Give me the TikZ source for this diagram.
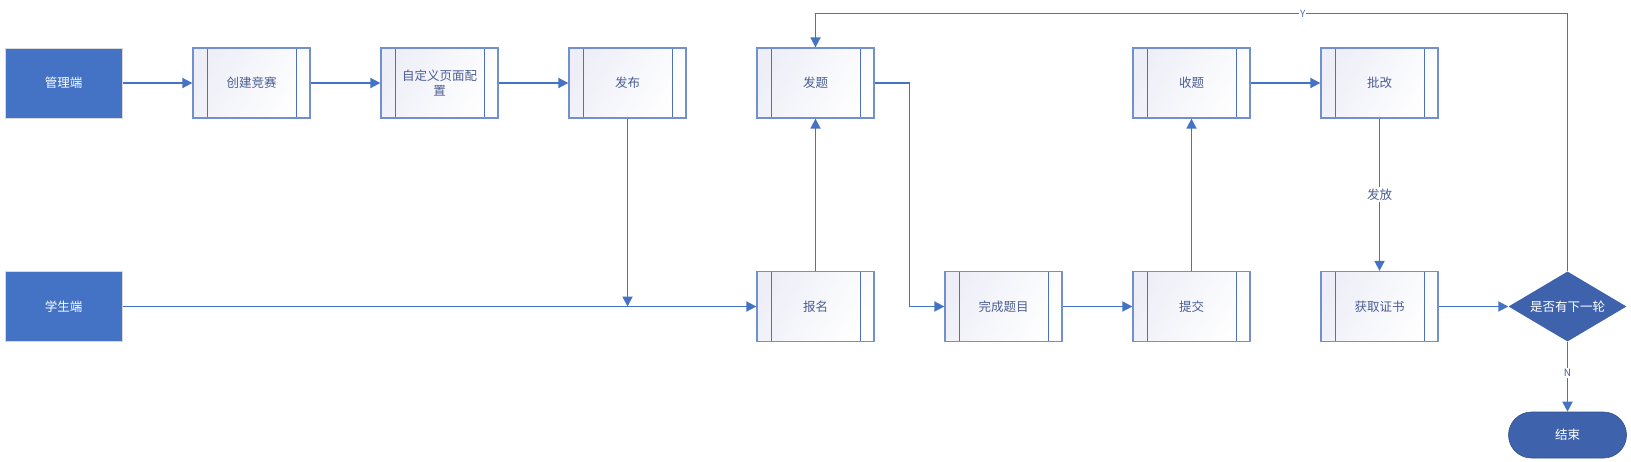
\documentclass[tikz,border=0pt]{standalone}
\usepackage{fontspec}
\setmainfont{Noto Sans CJK SC}
\usetikzlibrary{arrows.meta,shapes.geometric,calc}
\definecolor{lineblue}{HTML}{4472C4}
\definecolor{boxborder}{HTML}{7290D0}
\definecolor{boxinner}{HTML}{4F70BA}
\definecolor{boxtop}{HTML}{E4E6F4}
\definecolor{boxtext}{HTML}{4A5E94}
\definecolor{darkfill}{HTML}{4472C4}
\definecolor{decfill}{HTML}{3E63AC}
\newcommand{\cnfont}{\fontsize{12.5pt}{15pt}\selectfont}
\tikzset{
  proc/.style={draw=boxborder, line width=1.3pt, top color=boxtop, bottom color=white, middle color=white!55!boxtop,
    shading angle=60, minimum width=117pt, minimum height=70pt, inner sep=0pt,
    font=\cnfont, text=boxtext, align=center,
    path picture={
      \fill[white, opacity=0.35] (path picture bounding box.north west) rectangle (path picture bounding box.south east);
      \draw[boxinner, line width=1pt] ([xshift=14pt]path picture bounding box.north west) -- ([xshift=14pt]path picture bounding box.south west);
      \draw[boxinner, line width=1pt] ([xshift=-14pt]path picture bounding box.north east) -- ([xshift=-14pt]path picture bounding box.south east);
    }},
  actor/.style={draw=black!15, line width=1pt, fill=darkfill, minimum width=117pt, minimum height=70pt,
    inner sep=0pt, font=\cnfont, text=white},
  decision/.style={diamond, fill=decfill, minimum width=118pt, minimum height=70pt, inner sep=0pt,
    aspect=1.686, font=\cnfont, text=white},
  terminal/.style={rectangle, rounded corners=23pt, fill=decfill, draw=decfill!80!black, line width=0.6pt,
    minimum width=118pt, minimum height=46pt, inner sep=0pt, font=\cnfont, text=white},
  conn/.style={draw=lineblue, line width=1.8pt, -{Triangle[length=10pt,width=10pt]}},
  plainline/.style={draw=lineblue, line width=1.8pt},
  elabel/.style={fill=white, inner sep=1.5pt, text=boxtext}
}
\begin{document}
\begin{tikzpicture}[x=1pt,y=-1pt]
\useasboundingbox (0,0) rectangle (1631,461);
% top row
\node[actor] (admin) at (63.5,83) {管理端};
\node[proc] (create) at (251.5,83) {创建竞赛};
\node[proc] (custom) at (439.5,83) {自定义页面配\\置};
\node[proc] (publish) at (627.5,83) {发布};
\node[proc] (issue) at (815.5,83) {发题};
\node[proc] (collect) at (1191.5,83) {收题};
\node[proc] (grade) at (1379.5,83) {批改};
% bottom row
\node[actor] (student) at (63.5,306.5) {学生端};
\node[proc] (signup) at (815.5,306.5) {报名};
\node[proc] (finish) at (1003.5,306.5) {完成题目};
\node[proc] (submit) at (1191.5,306.5) {提交};
\node[proc] (cert) at (1379.5,306.5) {获取证书};
\node[decision] (next) at (1567.5,306.5) {是否有下一轮};
\node[terminal] (end) at (1567.5,435) {结束};
% helper coordinates
\coordinate (merge) at (publish.south |- student.east);
\coordinate (bend) at ($(issue.east)!0.5!(finish.west)$);
\coordinate (loop) at (next.north |- 0,13.5);
% connectors
\draw[conn] (admin) -- (create);
\draw[conn] (create) -- (custom);
\draw[conn] (custom) -- (publish);
\draw[conn] (publish.south) -- (merge);
\draw[conn] (student.east) -- (signup.west);
\draw[conn] (signup.north) -- (issue.south);
\draw[conn] (issue.east) -| (bend) |- (finish.west);
\draw[conn] (finish) -- (submit);
\draw[conn] (submit.north) -- (collect.south);
\draw[conn] (collect) -- (grade);
\draw[conn] (grade.south) -- node[elabel, font=\cnfont] {发放} (cert.north);
\draw[conn] (cert.east) -- (next.west);
\draw[plainline] (next.north) -- (loop);
\draw[conn] (loop) -| node[pos=0.176, fill=white, inner sep=1pt, text=lineblue, font=\fontsize{10pt}{11pt}\selectfont] {Y} (issue.north);
\draw[conn] (next.south) -- node[pos=0.45, fill=white, inner sep=1.5pt, text=boxtext, font=\fontsize{10pt}{11pt}\selectfont] {N} (end.north);
\end{tikzpicture}
\end{document}
